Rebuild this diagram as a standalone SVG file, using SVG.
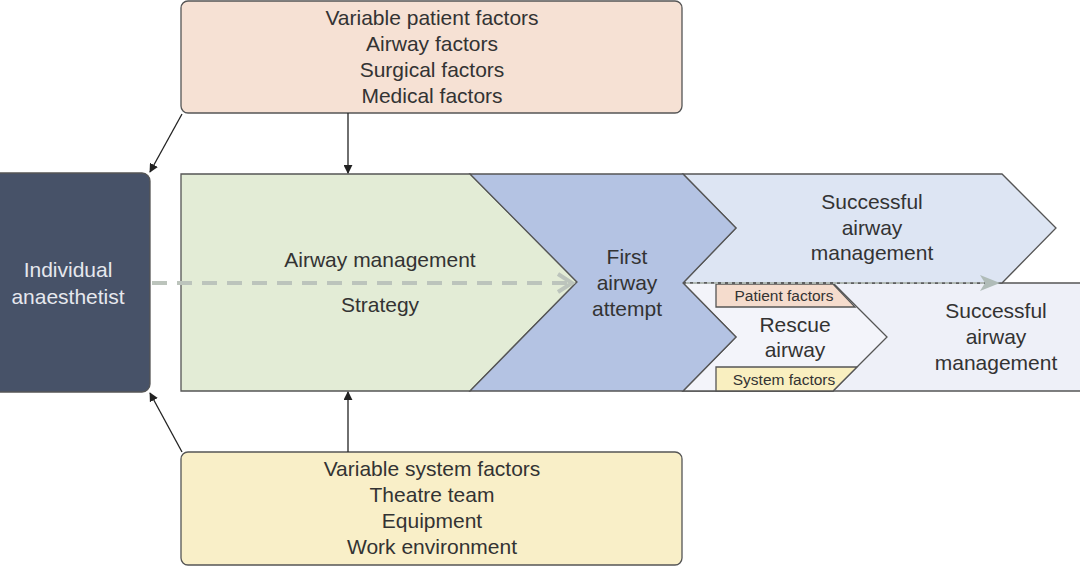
<svg xmlns="http://www.w3.org/2000/svg" width="1080" height="566" viewBox="0 0 1080 566">
<defs>
<style>
text{font-family:"Liberation Sans",Arial,sans-serif;fill:#333;text-anchor:middle;dominant-baseline:central}
.t18{font-size:21px}
.t13{font-size:15.5px}
.shape{stroke:#555;stroke-width:1.3;stroke-linejoin:miter}
.conn{stroke:#222;stroke-width:1.3;fill:none}
</style>
<marker id="ah" viewBox="0 0 10 10" refX="9" refY="5" markerWidth="9" markerHeight="9" markerUnits="userSpaceOnUse" orient="auto">
<path d="M0,0 L10,5 L0,10 z" fill="#222"/>
</marker>
</defs>
<rect width="1080" height="566" fill="#fff"/>

<g id="lower-success">
<polygon class="shape" points="683,283 1081,283 1081,391 683,391 736,337" fill="#eef0f8"/>
<text class="t18" x="996" y="310">Successful</text>
<text class="t18" x="996" y="336">airway</text>
<text class="t18" x="996" y="362">management</text>
</g>

<g id="upper-success">
<polygon class="shape" points="683,174 1002,174 1056,228 1002,283 683,283 736,228" fill="#dde5f3"/>
<text class="t18" x="872" y="201">Successful</text>
<text class="t18" x="872" y="227">airway</text>
<text class="t18" x="872" y="252">management</text>
</g>

<g id="rescue">
<polygon class="shape" points="683,283 833,283 887,337 833,391 683,391 736,337" fill="#f3f4fa"/>
<text class="t18" x="795" y="324">Rescue</text>
<text class="t18" x="795" y="349">airway</text>
</g>

<g id="patient-factors-tag">
<polygon class="shape" points="716,284 833,284 855,307 716,307" fill="#f5dccd"/>
<text class="t13" x="784" y="295">Patient factors</text>
</g>

<g id="system-factors-tag">
<polygon class="shape" points="716,367 857,367 833,391 716,391" fill="#f9efc0"/>
<text class="t13" x="784" y="379">System factors</text>
</g>

<g id="strategy">
<polygon class="shape" points="181,174 470,174 577,282 470,391 181,391" fill="#e3ecd6"/>
<text class="t18" x="380" y="259">Airway management</text>
<text class="t18" x="380" y="304">Strategy</text>
</g>

<g id="first-attempt">
<polygon class="shape" points="470,174 683,174 736,228 683,283 736,337 683,391 470,391 577,282" fill="#b4c3e3"/>
<text class="t18" x="627" y="256">First</text>
<text class="t18" x="627" y="282">airway</text>
<text class="t18" x="627" y="308">attempt</text>
</g>

<g id="anaesthetist">
<rect class="shape" x="-10" y="173" width="160" height="219" rx="8" fill="#475268"/>
<text class="t18" x="68" y="269" style="fill:#e6e8ee">Individual</text>
<text class="t18" x="68" y="296" style="fill:#e6e8ee">anaesthetist</text>
</g>

<g id="patient-factors">
<rect class="shape" x="181" y="1" width="501" height="112" rx="7" fill="#f6e1d4"/>
<text class="t18" x="432" y="17">Variable patient factors</text>
<text class="t18" x="432" y="43">Airway factors</text>
<text class="t18" x="432" y="69">Surgical factors</text>
<text class="t18" x="432" y="95">Medical factors</text>
</g>

<g id="system-factors">
<rect class="shape" x="181" y="452" width="501" height="113" rx="7" fill="#f9efc8"/>
<text class="t18" x="432" y="468">Variable system factors</text>
<text class="t18" x="432" y="494">Theatre team</text>
<text class="t18" x="432" y="520">Equipment</text>
<text class="t18" x="432" y="546">Work environment</text>
</g>

<g id="connectors">
<line class="conn" x1="182" y1="114" x2="150" y2="172" marker-end="url(#ah)"/>
<line class="conn" x1="348" y1="113" x2="348" y2="173" marker-end="url(#ah)"/>
<line class="conn" x1="182" y1="452" x2="150" y2="393" marker-end="url(#ah)"/>
<line class="conn" x1="348" y1="452" x2="348" y2="392" marker-end="url(#ah)"/>
<line x1="152" y1="283" x2="570" y2="283" stroke="#bcc4bc" stroke-width="4" stroke-dasharray="15,10"/>
<polyline points="558,274 572,283 558,292" fill="none" stroke="#bcc4bc" stroke-width="4"/>
<line x1="686" y1="283" x2="990" y2="283" stroke="#b0b8b4" stroke-width="2" stroke-dasharray="4,3"/>
<polygon points="980,275 1000,283 980,291 985,283" fill="#b0bcb8"/>
</g>
</svg>
